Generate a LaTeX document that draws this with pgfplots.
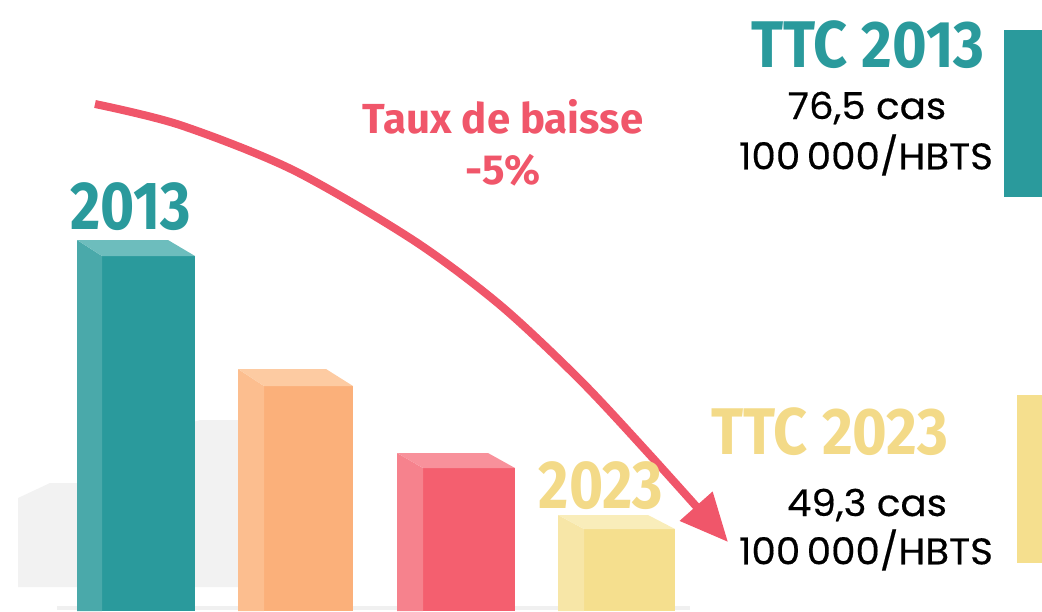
\documentclass[border=0pt]{standalone}
\usepackage{pgfplots}
\pgfplotsset{compat=1.18}
\usepackage{fontspec}
\setmainfont{Fira Sans}
\newfontfamily\pop[FakeBold=0.4]{Poppins}
\usetikzlibrary{arrows.meta}

\definecolor{teal1}{HTML}{2A9A9C}
\definecolor{teal2}{HTML}{4AA9AA}
\definecolor{teal3}{HTML}{6DBDBD}
\definecolor{ora1}{HTML}{FBB07A}
\definecolor{ora2}{HTML}{FCBE8F}
\definecolor{ora3}{HTML}{FDCBA2}
\definecolor{red1}{HTML}{F45F6F}
\definecolor{red2}{HTML}{F6828D}
\definecolor{red3}{HTML}{F8919B}
\definecolor{yel1}{HTML}{F5DF8E}
\definecolor{yel2}{HTML}{F7E6A7}
\definecolor{yel3}{HTML}{F9EDBA}
\definecolor{txtred}{HTML}{F0566A}
\definecolor{txtyel}{HTML}{F3DA88}
\definecolor{bggray}{HTML}{F2F2F2}

\begin{document}
\begin{tikzpicture}
\begin{axis}[
    scale only axis,
    width=521pt, height=305.5pt,
    xmin=0, xmax=1042, ymin=0, ymax=611,
    y dir=reverse,
    axis lines=none,
    clip=false,
]
% background shadows
\addplot[fill=bggray, draw=none] coordinates {(18,498) (50,483) (90,483) (90,587) (18,587)} --cycle;
\addplot[fill=bggray, draw=none] coordinates {(190,423) (200,420) (245,420) (245,587) (190,587)} --cycle;
\addplot[draw=black!6, line width=2pt] coordinates {(57,608) (690,608)};

% bar 2013 (teal)
\addplot[fill=teal1, draw=none] coordinates {(102,256) (195,256) (195,611) (102,611)} --cycle;
\addplot[fill=teal2, draw=none] coordinates {(77,240) (102,256) (102,611) (77,611)} --cycle;
\addplot[fill=teal3, draw=none] coordinates {(77,240) (168,240) (195,256) (102,256)} --cycle;
% bar 2 (orange)
\addplot[fill=ora1, draw=none] coordinates {(264,386) (353,386) (353,611) (264,611)} --cycle;
\addplot[fill=ora2, draw=none] coordinates {(238,369) (264,386) (264,611) (238,611)} --cycle;
\addplot[fill=ora3, draw=none] coordinates {(238,369) (326,369) (353,386) (264,386)} --cycle;
% bar 3 (red)
\addplot[fill=red1, draw=none] coordinates {(423,468) (515,468) (515,611) (423,611)} --cycle;
\addplot[fill=red2, draw=none] coordinates {(397,453) (423,468) (423,611) (397,611)} --cycle;
\addplot[fill=red3, draw=none] coordinates {(397,453) (488,453) (515,468) (423,468)} --cycle;
% bar 2023 (yellow)
\addplot[fill=yel1, draw=none] coordinates {(584,529) (675,529) (675,611) (584,611)} --cycle;
\addplot[fill=yel2, draw=none] coordinates {(558,515) (584,529) (584,611) (558,611)} --cycle;
\addplot[fill=yel3, draw=none] coordinates {(558,515) (648,515) (675,529) (584,529)} --cycle;

% side swatches
\addplot[fill=teal1, draw=none] coordinates {(1004,30) (1042,30) (1042,197) (1004,197)} --cycle;
\addplot[fill=yel1, draw=none] coordinates {(1017,395) (1042,395) (1042,563) (1017,563)} --cycle;

% trend arrow
\addplot[txtred, line width=4pt, smooth,
    -{Triangle[length=24pt, width=21pt]}]
    coordinates {(95,104) (180,125) (293,170) (413,240) (500,305) (580,380) (650,455) (728,542)};

% labels
\node[teal1, font=\fontsize{34}{34}\selectfont\bfseries, xscale=0.86] at (axis cs:131,207) {2013};
\node[txtyel, font=\fontsize{34}{34}\selectfont\bfseries, xscale=0.86] at (axis cs:601,486) {2023};
\node[txtred, font=\fontsize{21}{21}\selectfont\bfseries] at (axis cs:503,117) {Taux de baisse};
\node[txtred, font=\fontsize{21}{21}\selectfont\bfseries] at (axis cs:503,170) {-5\%};

\node[teal1, font=\fontsize{33}{33}\selectfont\bfseries, xscale=0.9] at (axis cs:868,45) {TTC 2013};
\node[font=\pop\fontsize{18.5}{18.5}\selectfont, xscale=1.05] at (axis cs:867,108) {76,5 cas};
\node[font=\pop\fontsize{18.5}{18.5}\selectfont, xscale=1.05] at (axis cs:866,155) {100\,000/HBTS};

\node[txtyel, font=\fontsize{33}{33}\selectfont\bfseries, xscale=0.9] at (axis cs:830,432) {TTC 2023};
\node[font=\pop\fontsize{18.5}{18.5}\selectfont, xscale=1.05] at (axis cs:867,505) {49,3 cas};
\node[font=\pop\fontsize{18.5}{18.5}\selectfont, xscale=1.05] at (axis cs:866,550) {100\,000/HBTS};
\end{axis}
\pgfresetboundingbox
\path[use as bounding box] (current axis.south west) rectangle (current axis.north east);
\end{tikzpicture}
\end{document}
